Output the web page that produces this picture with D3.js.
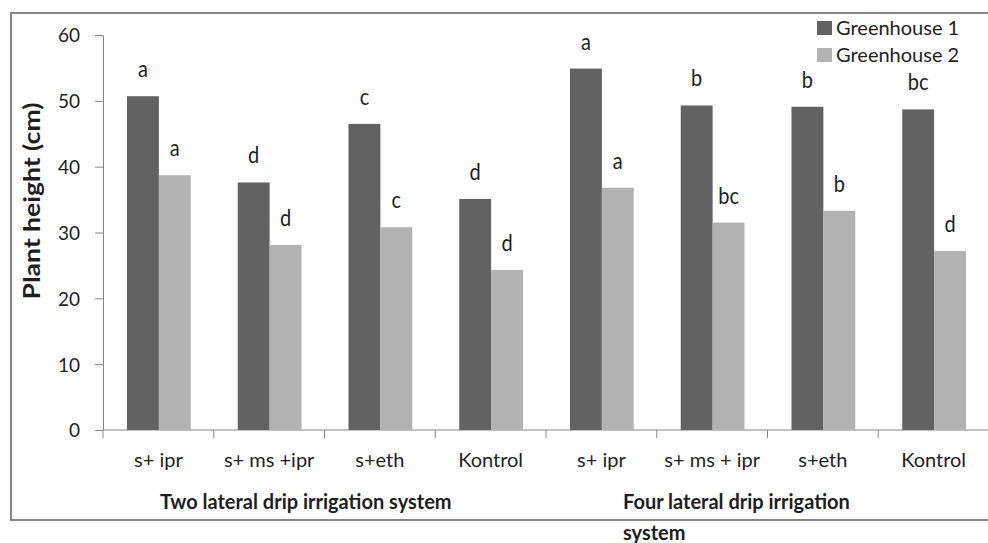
<!DOCTYPE html>
<html>
<head>
<meta charset="utf-8">
<script src="https://cdn.jsdelivr.net/npm/d3@7"></script>
<style>
  body { margin: 0; background: #fff; }
  svg { display: block; }
</style>
</head>
<body>
<div id="chart"></div>
<script>
var categories = ["s+ ipr", "s+ ms +ipr", "s+eth", "Kontrol", "s+ ipr", "s+ ms + ipr", "s+eth", "Kontrol"];
var seriesNames = ["Greenhouse 1", "Greenhouse 2"];
var greenhouse1 = [50.7, 37.6, 46.5, 35.1, 54.9, 49.3, 49.1, 48.7];
var greenhouse2 = [38.7, 28.1, 30.8, 24.3, 36.8, 31.5, 33.3, 27.2];
var letters1 = ["a", "d", "c", "d", "a", "b", "b", "bc"];
var letters2 = ["a", "d", "c", "d", "a", "bc", "b", "d"];
var groupLabels = [["Two lateral drip irrigation system"], ["Four lateral drip irrigation", "system"]];
var yTicks = [0, 10, 20, 30, 40, 50, 60];

var colors = ["#626262", "#b2b2b2"];
var textColor = "#1e1e1e";
var axisColor = "#868686";
var font = "Lato, 'Open Sans', sans-serif";

var width = 988, height = 543;

var svg = d3.select("#chart").append("svg")
  .attr("width", width)
  .attr("height", height);

// outer frame
svg.append("rect")
  .attr("x", 11).attr("y", 13)
  .attr("width", 1000).attr("height", 507)
  .attr("fill", "none")
  .attr("stroke", axisColor)
  .attr("stroke-width", 2);

var x0 = d3.scaleBand()
  .domain(d3.range(categories.length))
  .range([103, 989])
  .padding(0);

var x1 = d3.scaleBand()
  .domain([0, 1])
  .range([24, x0.bandwidth() - 23])
  .padding(0);

var y = d3.scaleLinear()
  .domain([0, 60])
  .range([430, 35]);

var rows = categories.map(function(c, i) {
  return { i: i, cat: c, vals: [greenhouse1[i], greenhouse2[i]], lets: [letters1[i], letters2[i]] };
});

// y axis
var yAxis = svg.append("g")
  .attr("transform", "translate(103,0)")
  .call(d3.axisLeft(y).tickValues(yTicks).tickSize(8).tickSizeOuter(0).tickPadding(15));
yAxis.select(".domain").attr("stroke", axisColor);
yAxis.selectAll(".tick line").attr("stroke", axisColor);
yAxis.selectAll(".tick text")
  .attr("fill", textColor)
  .attr("font-family", font)
  .attr("font-size", "19px")
  .attr("dy", "0.36em");

// x axis line + boundary ticks
svg.append("line")
  .attr("x1", 103).attr("x2", 989)
  .attr("y1", y(0)).attr("y2", y(0))
  .attr("stroke", axisColor);

svg.selectAll("line.xtick")
  .data(d3.range(categories.length + 1))
  .enter().append("line")
  .attr("class", "xtick")
  .attr("x1", d => 103 + d * x0.step())
  .attr("x2", d => 103 + d * x0.step())
  .attr("y1", y(0)).attr("y2", y(0) + 8)
  .attr("stroke", axisColor);

// bars
var groups = svg.selectAll("g.grp")
  .data(rows)
  .enter().append("g")
  .attr("class", "grp")
  .attr("transform", d => "translate(" + x0(d.i) + ",0)");

groups.selectAll("rect")
  .data(d => d.vals.map((v, k) => ({ v: v, k: k })))
  .enter().append("rect")
  .attr("x", d => x1(d.k))
  .attr("y", d => y(d.v))
  .attr("width", x1.bandwidth())
  .attr("height", d => y(0) - y(d.v))
  .attr("fill", d => colors[d.k]);

// significance letters, slightly stretched vertically like the source
groups.selectAll("text.let")
  .data(d => d.vals.map((v, k) => ({ v: v, k: k, t: d.lets[k] })))
  .enter().append("text")
  .attr("class", "let")
  .attr("transform", d => "translate(" + (x1(d.k) + x1.bandwidth() / 2) + "," + (y(d.v) - 19) + ") scale(1,1.15)")
  .attr("text-anchor", "middle")
  .attr("fill", textColor)
  .attr("font-family", font)
  .attr("font-size", "20px")
  .text(d => d.t);

// category labels
svg.selectAll("text.cat")
  .data(rows)
  .enter().append("text")
  .attr("class", "cat")
  .attr("x", d => x0(d.i) + x0.bandwidth() / 2)
  .attr("y", 467)
  .attr("text-anchor", "middle")
  .attr("fill", textColor)
  .attr("font-family", font)
  .attr("font-size", "20px")
  .text(d => d.cat);

// group labels
var groupStart = [x0(0) + 57, x0(4) + 77];
groupLabels.forEach(function(lines, g) {
  var t = svg.append("text")
    .attr("x", groupStart[g])
    .attr("y", 509)
    .attr("fill", textColor)
    .attr("font-family", font)
    .attr("font-size", "20px")
    .attr("font-weight", "bold");
  lines.forEach(function(l, j) {
    t.append("tspan")
      .attr("x", groupStart[g])
      .attr("dy", j === 0 ? 0 : 31)
      .text(l);
  });
});

// y title
svg.append("text")
  .attr("transform", "translate(40,201) rotate(-90)")
  .attr("text-anchor", "middle")
  .attr("fill", textColor)
  .attr("font-family", font)
  .attr("font-size", "22px")
  .attr("font-weight", "bold")
  .attr("textLength", 197)
  .attr("lengthAdjust", "spacingAndGlyphs")
  .text("Plant height (cm)");

// legend
var legend = svg.selectAll("g.leg")
  .data(seriesNames)
  .enter().append("g")
  .attr("class", "leg")
  .attr("transform", (d, i) => "translate(817," + (21 + i * 27) + ")");

legend.append("rect")
  .attr("width", 15).attr("height", 14)
  .attr("fill", (d, i) => colors[i]);

legend.append("text")
  .attr("x", 19)
  .attr("y", 14)
  .attr("fill", textColor)
  .attr("font-family", font)
  .attr("font-size", "20px")
  .text(d => d);
</script>
</body>
</html>
